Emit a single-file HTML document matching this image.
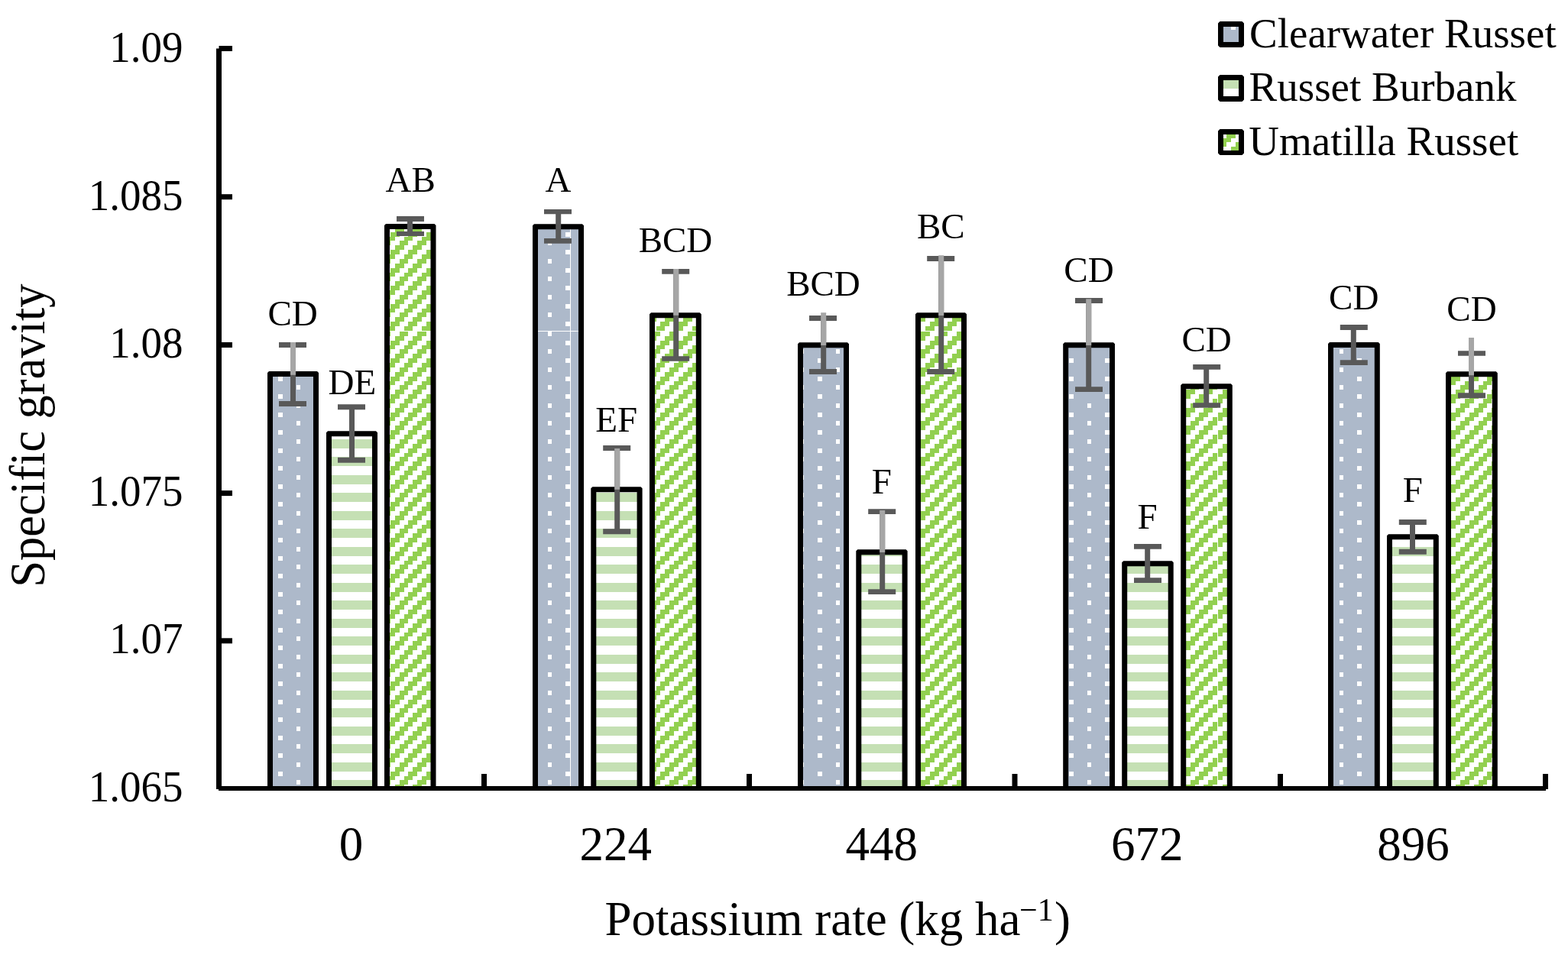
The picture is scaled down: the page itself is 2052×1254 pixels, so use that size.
<!DOCTYPE html>
<html lang="en"><head><meta charset="utf-8"><title>Specific gravity by potassium rate</title>
<style>
html,body{margin:0;padding:0;background:#fff;}
body{width:2052px;height:1254px;overflow:hidden;}
svg{display:block;}
text{font-family:"Liberation Serif","Times New Roman",Times,serif;fill:#000;}
.yl{font-size:55px;text-anchor:end;}
.xl{font-size:63px;text-anchor:middle;}
.dl{font-size:47px;}
.lg{font-size:55px;}
.ti{font-size:63px;}
</style></head><body>
<svg width="2052" height="1254" viewBox="0 0 2052 1254">
<defs>
<pattern id="pCR" patternUnits="userSpaceOnUse" x="12" y="28" width="47" height="47"><g shape-rendering="crispEdges"><rect width="47" height="47" fill="#adb9ca"/><rect x="0" y="5" width="5" height="6" fill="#fff"/><rect x="0" y="29" width="5" height="6" fill="#fff"/><rect x="23" y="17" width="6" height="6" fill="#fff"/><rect x="23" y="41" width="6" height="6" fill="#fff"/></g></pattern>
<pattern id="pRB" patternUnits="userSpaceOnUse" x="12" y="28" width="47" height="47"><g shape-rendering="crispEdges"><rect width="47" height="47" fill="#fff"/><rect x="0" y="5" width="47" height="12" fill="#c5e0b4"/><rect x="0" y="29" width="47" height="12" fill="#c5e0b4"/></g></pattern>
<pattern id="pUR" patternUnits="userSpaceOnUse" x="12" y="28" width="47" height="47"><g shape-rendering="crispEdges"><rect width="47" height="47" fill="#fff"/><rect x="0" y="0" width="5" height="5" fill="#92d050"/><rect x="5" y="0" width="6" height="5" fill="#92d050"/><rect x="23" y="0" width="6" height="5" fill="#92d050"/><rect x="29" y="0" width="6" height="5" fill="#92d050"/><rect x="0" y="5" width="5" height="6" fill="#92d050"/><rect x="17" y="5" width="6" height="6" fill="#92d050"/><rect x="23" y="5" width="6" height="6" fill="#92d050"/><rect x="41" y="5" width="6" height="6" fill="#92d050"/><rect x="11" y="11" width="6" height="6" fill="#92d050"/><rect x="17" y="11" width="6" height="6" fill="#92d050"/><rect x="35" y="11" width="6" height="6" fill="#92d050"/><rect x="41" y="11" width="6" height="6" fill="#92d050"/><rect x="5" y="17" width="6" height="6" fill="#92d050"/><rect x="11" y="17" width="6" height="6" fill="#92d050"/><rect x="29" y="17" width="6" height="6" fill="#92d050"/><rect x="35" y="17" width="6" height="6" fill="#92d050"/><rect x="0" y="23" width="5" height="6" fill="#92d050"/><rect x="5" y="23" width="6" height="6" fill="#92d050"/><rect x="23" y="23" width="6" height="6" fill="#92d050"/><rect x="29" y="23" width="6" height="6" fill="#92d050"/><rect x="0" y="29" width="5" height="6" fill="#92d050"/><rect x="17" y="29" width="6" height="6" fill="#92d050"/><rect x="23" y="29" width="6" height="6" fill="#92d050"/><rect x="41" y="29" width="6" height="6" fill="#92d050"/><rect x="11" y="35" width="6" height="6" fill="#92d050"/><rect x="17" y="35" width="6" height="6" fill="#92d050"/><rect x="35" y="35" width="6" height="6" fill="#92d050"/><rect x="41" y="35" width="6" height="6" fill="#92d050"/><rect x="5" y="41" width="6" height="6" fill="#92d050"/><rect x="11" y="41" width="6" height="6" fill="#92d050"/><rect x="29" y="41" width="6" height="6" fill="#92d050"/><rect x="35" y="41" width="6" height="6" fill="#92d050"/></g></pattern>
</defs>
<rect width="2052" height="1254" fill="#fff"/>
<g id="bars">
<g shape-rendering="crispEdges">
<rect transform="translate(0 1)" x="353" y="488" width="61" height="541" fill="url(#pCR)"/>
<rect transform="translate(0 1)" x="430" y="566" width="61" height="463" fill="url(#pRB)"/>
<rect x="506" y="296" width="61" height="137" fill="url(#pUR)"/>
<rect transform="translate(0 1)" x="506" y="433" width="61" height="596" fill="url(#pUR)"/>
<rect x="700" y="296" width="46" height="137" fill="url(#pCR)"/>
<rect transform="translate(0 1)" x="700" y="433" width="46" height="596" fill="url(#pCR)"/>
<rect transform="translate(1 0)" x="746" y="296" width="14" height="137" fill="url(#pCR)"/>
<rect transform="translate(1 1)" x="746" y="433" width="14" height="596" fill="url(#pCR)"/>
<rect transform="translate(1 1)" x="775" y="639" width="62" height="390" fill="url(#pRB)"/>
<rect transform="translate(1 0)" x="852" y="412" width="62" height="21" fill="url(#pUR)"/>
<rect transform="translate(1 1)" x="852" y="433" width="62" height="596" fill="url(#pUR)"/>
<rect transform="translate(1 1)" x="1046" y="450" width="61" height="579" fill="url(#pCR)"/>
<rect transform="translate(1 1)" x="1122" y="721" width="62" height="308" fill="url(#pRB)"/>
<rect transform="translate(1 0)" x="1200" y="412" width="61" height="21" fill="url(#pUR)"/>
<rect transform="translate(1 1)" x="1200" y="433" width="61" height="596" fill="url(#pUR)"/>
<rect transform="translate(1 1)" x="1393" y="450" width="62" height="579" fill="url(#pCR)"/>
<rect transform="translate(1 1)" x="1470" y="736" width="62" height="293" fill="url(#pRB)"/>
<rect transform="translate(1 1)" x="1547" y="504" width="45" height="525" fill="url(#pUR)"/>
<rect transform="translate(2 1)" x="1592" y="504" width="16" height="525" fill="url(#pUR)"/>
<rect transform="translate(2 1)" x="1739" y="450" width="62" height="579" fill="url(#pCR)"/>
<rect transform="translate(2 1)" x="1816" y="701" width="62" height="328" fill="url(#pRB)"/>
<rect transform="translate(2 1)" x="1893" y="488" width="62" height="541" fill="url(#pUR)"/>
</g>
<g fill="#000" fill-rule="evenodd">
<path d="M350 1032V488L352 486H415L417 488V1032H410V493H357V1032z"/>
<path d="M427 1032V566.2L429 564.2H492L494 566.2V1032H487V571.2H434V1032z"/>
<path d="M503 1032V295L505 293H568.5L570.5 295V1032H563.5V300H510V1032z"/>
<path d="M697 1032V295.2L699 293.2H762L764 295.2V1032H757V300.2H704V1032z"/>
<path d="M773.3 1032V639.2L775.3 637.2H838.6L840.6 639.2V1032H833.6V644.2H780.3V1032z"/>
<path d="M850 1032V411.2L852 409.2H915.8L917.8 411.2V1032H910.8V416.2H857V1032z"/>
<path d="M1044 1032V450.2L1046 448.2H1109L1111 450.2V1032H1104V455.2H1051V1032z"/>
<path d="M1120.3 1032V721.2L1122.3 719.2H1185.6L1187.6 721.2V1032H1180.6V726.2H1127.3V1032z"/>
<path d="M1198 1032V411.2L1200 409.2H1263L1265 411.2V1032H1258V416.2H1205V1032z"/>
<path d="M1391.2 1032V450.2L1393.2 448.2H1457L1459 450.2V1032H1452V455.2H1398.2V1032z"/>
<path d="M1468.2 1032V736.2L1470.2 734.2H1533.7L1535.7 736.2V1032H1528.7V741.2H1475.2V1032z"/>
<path d="M1545.2 1032V504.3L1547.2 502.3H1610.8L1612.8 504.3V1032H1605.8V509.3H1552.2V1032z"/>
<path d="M1738 1032V450.1L1740 448.1H1803.8L1805.8 450.1V1032H1798.8V455.1H1745V1032z"/>
<path d="M1815 1032V701.2L1817 699.2H1880.8L1882.8 701.2V1032H1875.8V706.2H1822V1032z"/>
<path d="M1892 1032V488.2L1894 486.2H1957.8L1959.8 488.2V1032H1952.8V493.2H1899V1032z"/>
</g></g>
<g id="errorbars">
<path fill="#595959" d="M365 448h36V455H387V525H401V532h-36V525H380V455H365z"/>
<rect x="380" y="448" width="7" height="42.8" fill="#a6a6a6"/>
<path fill="#595959" d="M442 529.2h36V536.2H464V598.7H478V605.7h-36V598.7H457V536.2H442z"/>
<path fill="#595959" d="M519 283h36V290H540V303H555V309h-36V303H533V290H519z"/>
<path fill="#595959" d="M712 274h36V280.2H734.2V312H748V318.8h-36V312H727.2V280.2H712z"/>
<path fill="#595959" d="M789.2 583h36V590H811.2V692.2H825.2V699.2h-36V692.2H804.2V590H789.2z"/>
<rect x="804.2" y="587" width="7" height="53.8" fill="#a6a6a6"/>
<path fill="#595959" d="M866.2 352h36V358.8H888.2V466.2H902.2V472.8h-36V466.2H881.2V358.8H866.2z"/>
<rect x="881.2" y="352" width="7" height="60.8" fill="#a6a6a6"/>
<path fill="#595959" d="M1059 413h36V420H1081.2V483H1095V490h-36V483H1074.2V420H1059z"/>
<rect x="1074.2" y="409.2" width="7" height="42.8" fill="#a6a6a6"/>
<path fill="#595959" d="M1136.2 666.2h36V673H1158.2V771.2H1172.2V778h-36V771.2H1151.2V673H1136.2z"/>
<rect x="1151.2" y="668" width="7" height="55" fill="#a6a6a6"/>
<path fill="#595959" d="M1213.2 335h36V342H1235.2V483H1249.2V490h-36V483H1228.2V342H1213.2z"/>
<rect x="1228.2" y="334.2" width="7" height="78.8" fill="#a6a6a6"/>
<path fill="#595959" d="M1407 390h36V397H1428.2V506.2H1443V513h-36V506.2H1421.2V397H1407z"/>
<rect x="1421.2" y="391.3" width="7" height="60.7" fill="#a6a6a6"/>
<path fill="#595959" d="M1484 712h36V718.8H1505.2V756.2H1520V763h-36V756.2H1498.2V718.8H1484z"/>
<path fill="#595959" d="M1561.2 477h36V483.8H1582.2V527.2H1597.2V533.8h-36V527.2H1575.2V483.8H1561.2z"/>
<path fill="#595959" d="M1753.8 425h36V432H1774.8V471.2H1789.8V478h-36V471.2H1767.8V432H1753.8z"/>
<path fill="#595959" d="M1830.8 680h36V687H1852V718.8H1866.8V725.8h-36V718.8H1845V687H1830.8z"/>
<path fill="#595959" d="M1908 459.2h36V465.8H1929V514.2H1944V521.2h-36V514.2H1922V465.8H1908z"/>
<rect x="1922" y="442" width="7" height="49.2" fill="#a6a6a6"/>
</g>
<g id="axes" fill="#000">
<rect x="283" y="63.5" width="7" height="969.5"/>
<rect x="286" y="1029" width="1737" height="6"/>
<rect x="286.5" y="60" width="17.5" height="7"/>
<rect x="286.5" y="254.2" width="17.5" height="7"/>
<rect x="286.5" y="448" width="17.5" height="7"/>
<rect x="286.5" y="642.1" width="17.5" height="7"/>
<rect x="286.5" y="835.3" width="17.5" height="7"/>
<rect x="630" y="1013" width="7" height="20"/>
<rect x="977" y="1013" width="7" height="20"/>
<rect x="1324.5" y="1013" width="7" height="20"/>
<rect x="1672" y="1013" width="7" height="20"/>
<rect x="2019" y="1013" width="7" height="20"/>
</g>
<g id="ticklabels">
<text class="yl" transform="translate(239.6 81) scale(1 1.018)">1.09</text>
<text class="yl" transform="translate(239.6 275) scale(1 1.018)">1.085</text>
<text class="yl" transform="translate(239.6 467.9) scale(1 1.018)">1.08</text>
<text class="yl" transform="translate(239.6 661.6) scale(1 1.018)">1.075</text>
<text class="yl" transform="translate(239.6 854.6) scale(1 1.018)">1.07</text>
<text class="yl" transform="translate(239.6 1048.9) scale(1 1.018)">1.065</text>
<text class="xl" transform="translate(459.55 1125.7) scale(1 1.022)">0</text>
<text class="xl" transform="translate(805.7 1125.7) scale(1 1.022)">224</text>
<text class="xl" transform="translate(1153.8 1125.7) scale(1 1.022)">448</text>
<text class="xl" transform="translate(1501.2 1125.7) scale(1 1.022)">672</text>
<text class="xl" transform="translate(1849.5 1125.7) scale(1 1.022)">896</text>
</g>
<g id="datalabels">
<text class="dl" x="350.44" y="425.6">CD</text>
<text class="dl" x="429.56" y="515.8">DE</text>
<text class="dl" x="504.62" y="250.6">AB</text>
<text class="dl" x="713.56" y="250.6">A</text>
<text class="dl" x="779.34" y="565">EF</text>
<text class="dl" x="835.63" y="329.6">BCD</text>
<text class="dl" x="1029.13" y="387.1">BCD</text>
<text class="dl" x="1140.73" y="645.8">F</text>
<text class="dl" x="1199.96" y="312.1">BC</text>
<text class="dl" x="1392.29" y="368.7">CD</text>
<text class="dl" x="1488.58" y="692">F</text>
<text class="dl" x="1546.38" y="459.9">CD</text>
<text class="dl" x="1739.09" y="404.9">CD</text>
<text class="dl" x="1835.73" y="657">F</text>
<text class="dl" x="1893.29" y="420.2">CD</text>
</g>
<g id="legend">
<g shape-rendering="crispEdges"><rect x="1600" y="34" width="22" height="22" fill="#adb9ca"/><rect x="1611" y="34" width="6" height="5" fill="#fff"/></g>
<path fill="#000" fill-rule="evenodd" d="M1594 30.5L1596.5 28H1625.5L1628 30.5V59.5L1625.5 62H1596.5L1594 59.5zM1601 35V55H1621V35z"/>
<text class="lg" x="1635.00" y="61.9">Clearwater Russet</text>
<g shape-rendering="crispEdges"><rect x="1600" y="104" width="22" height="12" fill="#c5e0b4"/></g>
<path fill="#000" fill-rule="evenodd" d="M1594 100.5L1596.5 98H1625.5L1628 100.5V130.5L1625.5 133H1596.5L1594 130.5zM1601 105V126H1621V105z"/>
<text class="lg" x="1634.55" y="132.4">Russet Burbank</text>
<g shape-rendering="crispEdges"><rect x="1605" y="175" width="12" height="6" fill="#92d050"/><rect x="1600" y="181" width="11" height="5" fill="#92d050"/><rect x="1600" y="186" width="5" height="6" fill="#92d050"/><rect x="1617" y="186" width="5" height="6" fill="#92d050"/><rect x="1611" y="192" width="11" height="6" fill="#92d050"/></g>
<path fill="#000" fill-rule="evenodd" d="M1594 171.5L1596.5 169H1625.5L1628 171.5V200.5L1625.5 203H1596.5L1594 200.5zM1601 176V197H1621V176z"/>
<text class="lg" x="1634.30" y="202.9">Umatilla Russet</text>
</g>
<g id="titles">
<text class="ti" x="791.41" y="1224">Potassium rate (kg ha<tspan font-size="42px" dx="-1.5" dy="-19.2">−1</tspan><tspan dx="1.3" dy="19.2">)</tspan></text>
<text class="ti" transform="translate(58.3 768.8) rotate(-90) scale(0.992 1.03)">Specific gravity</text>
</g>
</svg>
</body></html>
